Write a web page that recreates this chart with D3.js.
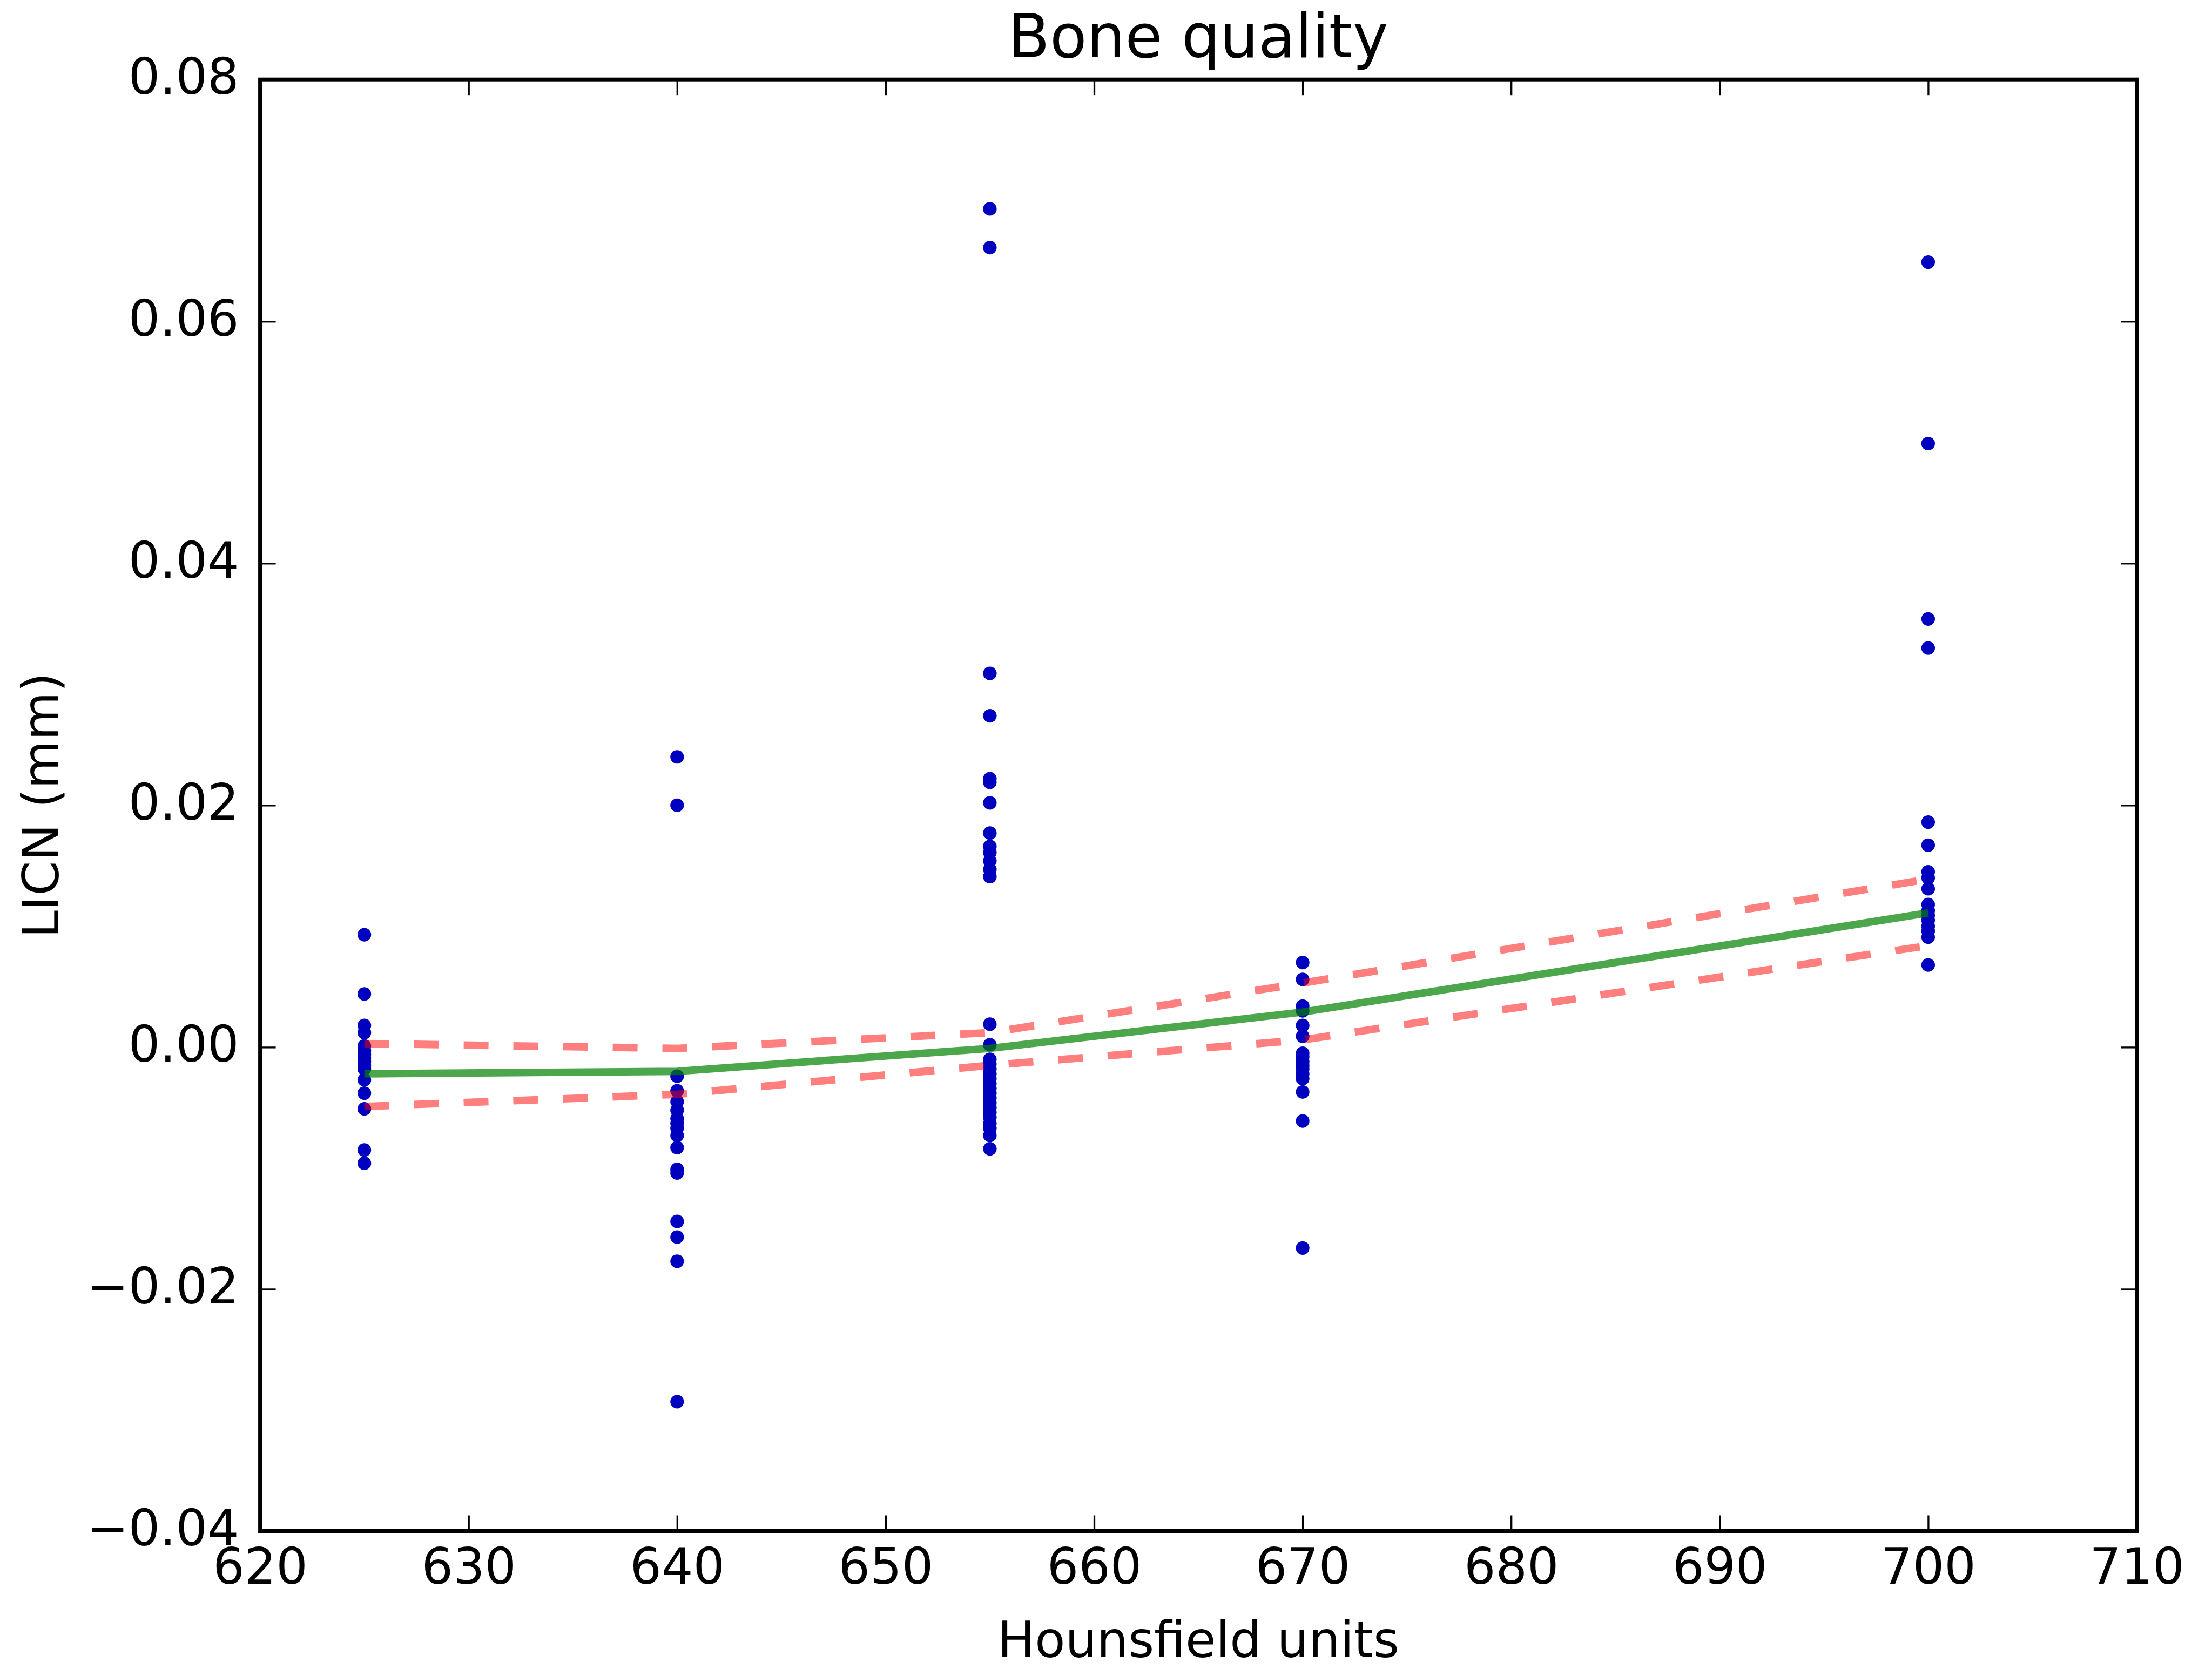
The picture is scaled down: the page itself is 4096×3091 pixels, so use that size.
<!DOCTYPE html>
<html>
<head>
<meta charset="utf-8">
<script src="https://cdn.jsdelivr.net/npm/d3@7"></script>
<style>
  html, body { margin: 0; padding: 0; background: #fff; }
  svg { display: block; font-family: "DejaVu Sans", sans-serif; }
</style>
</head>
<body>
<div id="chart"></div>
<script>
// measurements per Hounsfield level
const hu625 = [0.0093, 0.0044, 0.0018, 0.0012, 0.0001, -0.0003, -0.0006, -0.0009, -0.0012, -0.0015, -0.0018, -0.0027, -0.0038, -0.0051, -0.0085, -0.0096];
const hu640 = [0.0240, 0.0200, -0.0024, -0.0036, -0.0045, -0.0052, -0.0059, -0.0063, -0.0067, -0.0073, -0.0083, -0.0101, -0.0104, -0.0144, -0.0157, -0.0177, -0.0293];
const hu655 = [0.0693, 0.0661, 0.0309, 0.0274, 0.0222, 0.0219, 0.0202, 0.0177, 0.0166, 0.0161, 0.0154, 0.0147, 0.0141,
  0.0019, 0.0002, -0.0010, -0.0014, -0.0018, -0.0022, -0.0026, -0.0030, -0.0034, -0.0038, -0.0042, -0.0046, -0.0050,
  -0.0054, -0.0058, -0.0063, -0.0067, -0.0073, -0.0084];
const hu670 = [0.0070, 0.0056, 0.0034, 0.0030, 0.0018, 0.0009, -0.0005, -0.0008, -0.0012, -0.0015, -0.0018, -0.0022, -0.0026, -0.0037, -0.0061, -0.0166];
const hu700 = [0.0649, 0.0499, 0.0354, 0.0330, 0.0186, 0.0167, 0.0145, 0.0140, 0.0131, 0.0118, 0.0113, 0.0109, 0.0105, 0.0100, 0.0096, 0.0091, 0.0068];

const levels = [625, 640, 655, 670, 700];
const groups = [hu625, hu640, hu655, hu670, hu700];

// fitted curve and its band
const fitMean = [-0.0022, -0.0020, -0.0001, 0.0029, 0.0111];
const fitUpper = [0.0003, -0.0001, 0.0012, 0.0053, 0.0139];
const fitLower = [-0.0049, -0.0039, -0.0015, 0.0006, 0.0084];

const xTicks = [620, 630, 640, 650, 660, 670, 680, 690, 700, 710];
const yTicks = [-0.04, -0.02, 0.00, 0.02, 0.04, 0.06, 0.08];

const W = 4096, H = 3091;
const margin = { left: 481.6, right: W - 3956.5, top: 147.2, bottom: H - 2835.5 };
const fs = 92;

const svg = d3.select("#chart").append("svg").attr("width", W).attr("height", H);

const x = d3.scaleLinear().domain([620, 710]).range([margin.left, W - margin.right]);
const y = d3.scaleLinear().domain([-0.04, 0.08]).range([H - margin.bottom, margin.top]);

const fmtY = v => d3.format(".2f")(v).replace("-", "\u2212");

// points
const pts = [];
levels.forEach((lv, i) => groups[i].forEach(v => pts.push([lv, v])));

svg.append("g")
  .selectAll("circle")
  .data(pts)
  .join("circle")
  .attr("cx", d => x(d[0]))
  .attr("cy", d => y(d[1]))
  .attr("r", 12.6)
  .attr("fill", "#0000bf");

// lines on top
const line = d3.line().x(d => x(d[0])).y(d => y(d[1]));
const zipped = arr => levels.map((lv, i) => [lv, arr[i]]);

[fitUpper, fitLower].forEach(arr => {
  svg.append("path")
    .attr("d", line(zipped(arr)))
    .attr("fill", "none")
    .attr("stroke", "#ff0000")
    .attr("stroke-opacity", 0.5)
    .attr("stroke-width", 14)
    .attr("stroke-dasharray", "46,46");
});

svg.append("path")
  .attr("d", line(zipped(fitMean)))
  .attr("fill", "none")
  .attr("stroke", "#008000")
  .attr("stroke-opacity", 0.7)
  .attr("stroke-width", 14);

// axes, ticks inside on all four sides
const tick = 29;
const gb = svg.append("g").attr("transform", `translate(0,${H - margin.bottom})`)
  .call(d3.axisBottom(x).tickValues(xTicks).tickSize(-tick).tickFormat(d3.format("d")));
gb.selectAll("text").attr("y", 97).attr("dy", null);

const gl = svg.append("g").attr("transform", `translate(${margin.left},0)`)
  .call(d3.axisLeft(y).tickValues(yTicks).tickSize(-tick).tickPadding(39).tickFormat(fmtY));
gl.selectAll("text").attr("dy", 26);

svg.append("g").attr("transform", `translate(0,${margin.top})`)
  .call(d3.axisTop(x).tickValues(xTicks).tickSize(-tick).tickFormat(""));
svg.append("g").attr("transform", `translate(${W - margin.right},0)`)
  .call(d3.axisRight(y).tickValues(yTicks).tickSize(-tick).tickFormat(""));

svg.selectAll(".domain").remove();
svg.selectAll(".tick line").attr("stroke", "#000").attr("stroke-width", 3.3);
svg.selectAll(".tick text")
  .attr("font-family", "DejaVu Sans")
  .attr("font-size", fs)
  .attr("fill", "#000");

svg.append("rect")
  .attr("x", margin.left).attr("y", margin.top)
  .attr("width", W - margin.right - margin.left)
  .attr("height", H - margin.bottom - margin.top)
  .attr("fill", "none").attr("stroke", "#000").attr("stroke-width", 7);

// labels
svg.append("text")
  .attr("x", (margin.left + W - margin.right) / 2).attr("y", 106)
  .attr("text-anchor", "middle").attr("font-size", 112)
  .text("Bone quality");

svg.append("text")
  .attr("x", (margin.left + W - margin.right) / 2).attr("y", 3069)
  .attr("text-anchor", "middle").attr("font-size", fs)
  .text("Hounsfield units");

svg.append("text")
  .attr("transform", `translate(108,${(margin.top + H - margin.bottom) / 2}) rotate(-90)`)
  .attr("text-anchor", "middle").attr("font-size", fs)
  .text("LICN (mm)");
</script>
</body>
</html>
